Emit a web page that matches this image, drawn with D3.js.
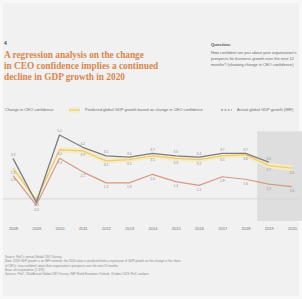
<!DOCTYPE html>
<html>
<head>
<meta charset="utf-8">
<script src="https://cdn.jsdelivr.net/npm/d3@7"></script>
<style>
  html, body { margin: 0; padding: 0; background: #f8f8f8; overflow: hidden; }
</style>
</head>
<body>
<div id="chart"></div>
<script>
var years = ["2008", "2009", "2010", "2011", "2012", "2013", "2014", "2015", "2016", "2017", "2018", "2019", "2020"];

// actual global GDP growth (IMF), % - no value for 2020
var actualGdp = [3.3, -0.3, 5.2, 4.2, 3.5, 3.4, 3.7, 3.5, 3.4, 3.7, 3.7, 3.0, null];
// predicted global GDP growth from change in CEO confidence, %
var predictedGdp = [2.5, -0.1, 4.0, 3.9, 3.1, 3.2, 3.5, 3.3, 3.2, 3.5, 3.6, 2.7, 2.5];
// change in CEO confidence
var ceoChange = [1.9, -0.5, 3.3, 2.2, 1.3, 1.3, 2.0, 1.4, 1.1, 1.8, 1.6, 1.2, 1.0];

var legendLabels = ["Change in CEO confidence", "Predicted global GDP growth based on change in CEO confidence", "Actual global GDP growth (IMF)"];
var titleLines = ["A regression analysis on the change", "in CEO confidence implies a continued", "decline in GDP growth in 2020"];
var questionLines = [
	"How confident are you about your organisation's",
	"prospects for business growth over the next 12",
	"months? (showing change in CEO confidence)"
];
var noteLines = [
	"Source: PwC's annual Global CEO Survey",
	"Note: 2019 GDP growth is an IMF estimate; the 2020 value is predicted from a regression of GDP growth on the change in the share",
	"of CEOs 'very confident' about their organisation's prospects over the next 12 months",
	"Base: all respondents (1,378)",
	"Sources: PwC, 23rd Annual Global CEO Survey; IMF World Economic Outlook, October 2019; PwC analysis"
];

var svgContainer,
	width = 302,
	height = 299;

var colors = {
	actual: "#7d7d7d",
	predicted: "#ebcd78",
	band: "#f6ebc4",
	ceo: "#d69a80",
	title: "#d8884e",
	text: "#6e6e6e",
	shade: "#dedede"
};

function onLoad() {
	svgContainer = d3.select("#chart")
		.append("svg")
		.attr("width", width)
		.attr("height", height)
		.attr("font-family", "Liberation Sans, Arial, sans-serif");

	svgContainer.append("rect")
		.attr("x", 3).attr("y", 3)
		.attr("width", width - 6).attr("height", height - 6)
		.attr("fill", "#f1f1f1");

	var xScale = d3.scalePoint().domain(years).range([13, 292]);
	var yScale = d3.scaleLinear().domain([-1.8, 5.5]).range([221, 131.3]);

	drawHeader();
	drawLegend();

	// shaded estimate / forecast zone
	var step = xScale.step();
	svgContainer.append("rect")
		.attr("x", xScale("2019") - step / 2)
		.attr("y", yScale(5.5))
		.attr("width", xScale("2020") + step / 2 - (xScale("2019") - step / 2))
		.attr("height", yScale(-1.8) - yScale(5.5))
		.attr("fill", colors.shade);

	// zero line
	svgContainer.append("line")
		.attr("x1", 3).attr("x2", 300)
		.attr("y1", yScale(0)).attr("y2", yScale(0))
		.attr("stroke", "#d6d6d6")
		.attr("stroke-width", 1);

	var xAxis = d3.axisBottom(xScale).tickSize(0).tickPadding(0);
	var xAxisGroup = svgContainer.append("g")
		.attr("transform", "translate(0,227)")
		.call(xAxis);
	xAxisGroup.select(".domain").remove();
	xAxisGroup.selectAll("text")
		.attr("font-size", 4)
		.attr("fill", colors.text)
		.attr("font-family", "Liberation Sans");

	// predicted band
	var band = d3.area()
		.x((d, i) => xScale(years[i]))
		.y0(d => yScale(d - 0.22))
		.y1(d => yScale(d + 0.22));
	svgContainer.append("path")
		.datum(predictedGdp)
		.attr("d", band)
		.attr("fill", colors.band);

	drawSeries(predictedGdp, xScale, yScale, colors.predicted, 1.3);
	drawSeries(ceoChange, xScale, yScale, colors.ceo, 1.2);
	drawSeries(actualGdp, xScale, yScale, colors.actual, 1.3);

	drawLabels(actualGdp, xScale, yScale, -2.5);
	drawLabels(predictedGdp, xScale, yScale, 5.5);
	drawLabels(ceoChange, xScale, yScale, 5.5);

	drawNotes();
}

function drawSeries(values, xScale, yScale, color, strokeWidth) {
	var line = d3.line()
		.defined(d => d !== null)
		.x((d, i) => xScale(years[i]))
		.y(d => yScale(d));
	svgContainer.append("path")
		.datum(values)
		.attr("d", line)
		.attr("fill", "none")
		.attr("stroke", color)
		.attr("stroke-width", strokeWidth)
		.attr("stroke-linejoin", "round");
}

function drawLabels(values, xScale, yScale, dy) {
	var points = values.map((v, i) => ({year: years[i], value: v})).filter(p => p.value !== null);
	svgContainer.append("g")
		.selectAll("text")
		.data(points)
		.join("text")
		.attr("x", p => xScale(p.year))
		.attr("y", p => yScale(p.value) + dy)
		.attr("text-anchor", "middle")
		.attr("font-size", 3.2)
		.attr("fill", "#8a8a8a")
		.text(p => p.value.toFixed(1));
}

function drawHeader() {
	svgContainer.append("text")
		.attr("x", 4).attr("y", 45)
		.attr("font-size", 5)
		.attr("font-weight", "bold")
		.attr("fill", "#444")
		.text("4");

	svgContainer.append("g")
		.selectAll("text")
		.data(titleLines)
		.join("text")
		.attr("x", 4)
		.attr("y", (d, i) => 58 + i * 11)
		.attr("font-family", "Liberation Serif, DejaVu Serif, serif")
		.attr("font-weight", "bold")
		.attr("font-size", 9.3)
		.attr("fill", colors.title)
		.text(d => d);

	svgContainer.append("text")
		.attr("x", 211).attr("y", 45.5)
		.attr("font-size", 4.3)
		.attr("font-weight", "bold")
		.attr("fill", "#555")
		.text("Question:");

	svgContainer.append("g")
		.selectAll("text")
		.data(questionLines)
		.join("text")
		.attr("x", 211)
		.attr("y", (d, i) => 53.5 + i * 6)
		.attr("font-size", 4)
		.attr("fill", colors.text)
		.text(d => d);
}

function drawLegend() {
	var y = 110;
	var g = svgContainer.append("g").attr("font-size", 4).attr("fill", colors.text);

	g.append("text").attr("x", 5).attr("y", y + 1.4).text(legendLabels[0]);

	g.append("rect")
		.attr("x", 69).attr("y", y - 2.5).attr("width", 11).attr("height", 5)
		.attr("fill", colors.band);
	g.append("line")
		.attr("x1", 69).attr("x2", 80).attr("y1", y).attr("y2", y)
		.attr("stroke", colors.predicted).attr("stroke-width", 1.2);
	g.append("text").attr("x", 85).attr("y", y + 1.4).text(legendLabels[1]);

	g.append("line")
		.attr("x1", 221).attr("x2", 232).attr("y1", y).attr("y2", y)
		.attr("stroke", colors.actual).attr("stroke-width", 1.2)
		.attr("stroke-dasharray", "2,1.3");
	g.append("text").attr("x", 237).attr("y", y + 1.4).text(legendLabels[2]);
}

function drawNotes() {
	svgContainer.append("g")
		.selectAll("text")
		.data(noteLines)
		.join("text")
		.attr("x", 5)
		.attr("y", (d, i) => 258 + i * 4.3)
		.attr("font-size", 3)
		.attr("fill", "#8a8a8a")
		.text(d => d);
}

onLoad();
</script>
</body>
</html>
